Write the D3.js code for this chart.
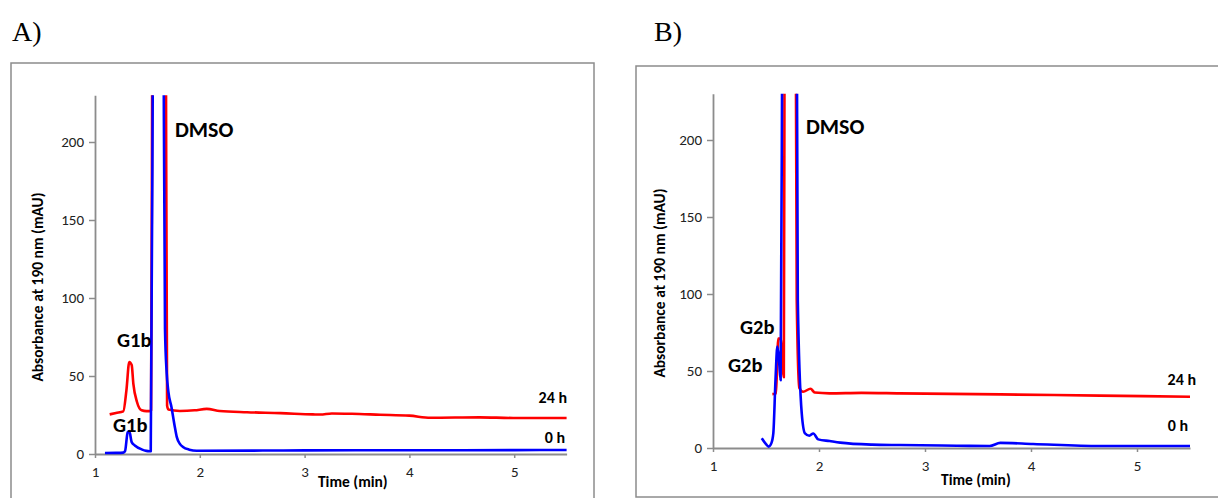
<!DOCTYPE html>
<html>
<head>
<meta charset="utf-8">
<script src="https://cdn.jsdelivr.net/npm/d3@7"></script>
<style>
  body { margin: 0; background: #fff; }
  svg text { font-family: Carlito, Calibri, "Open Sans", sans-serif; }
</style>
</head>
<body>
<div id="chart"></div>
<script>
// chromatogram traces, [time (min), absorbance (mAU)]
// values above the axis max are the clipped DMSO peak
var a24h = [[1.14, 25.4], [1.20, 26.3], [1.27, 27.3], [1.30, 41], [1.327, 59], [1.35, 57],
  [1.366, 45], [1.40, 33.5], [1.445, 28], [1.49, 27.5], [1.52, 27.5], [1.535, 28],
  [1.548, 300], [1.61, 1000], [1.675, 300], [1.688, 31], [1.70, 28.5], [1.81, 27.6],
  [1.95, 28], [2.066, 28.9], [2.19, 27.6], [2.45, 26.8], [2.77, 26.2], [3.08, 25.4],
  [3.15, 25.3], [3.26, 26], [3.45, 25.8], [3.72, 25.2], [4.0, 24.6], [4.2, 23.2],
  [4.67, 23.5], [4.99, 23.1], [5.5, 23.1]];
var a0h = [[1.095, 0.6], [1.20, 0.7], [1.27, 0.9], [1.286, 1.7], [1.312, 14], [1.327, 14.7],
  [1.35, 7.6], [1.38, 5.5], [1.445, 3], [1.49, 2], [1.52, 1.8], [1.532, 1.8],
  [1.555, 300], [1.60, 1000], [1.652, 300], [1.668, 80], [1.684, 52], [1.70, 40],
  [1.73, 30], [1.76, 18], [1.78, 11], [1.81, 6.5], [1.84, 4.5], [1.90, 2.8], [1.97, 2.1],
  [2.6, 2.2], [3.0, 2.3], [4.0, 2.4], [5.0, 2.5], [5.5, 2.6]];

var b24h = [[1.56, 35], [1.594, 35.5], [1.616, 71], [1.638, 71], [1.668, 46], [1.676, 300],
  [1.73, 1000], [1.78, 300], [1.79, 96], [1.815, 39], [1.85, 36.5], [1.92, 38.5],
  [1.96, 36], [2.1, 35.5], [2.4, 35.8], [2.76, 35.5], [3.71, 34.8], [4.65, 34],
  [5.5, 33.3]];
var b0h = [[1.46, 6.3], [1.50, 2.5], [1.525, 0.9], [1.55, 3], [1.569, 9.5], [1.59, 45],
  [1.607, 65.8], [1.625, 55], [1.638, 44], [1.655, 300], [1.72, 1000], [1.79, 300],
  [1.80, 96], [1.837, 22.7], [1.868, 9.5], [1.909, 8], [1.946, 9.4], [1.993, 5.6],
  [2.1, 4.5], [2.2, 3.5], [2.5, 2.2], [2.76, 1.9], [3.3, 1.5], [3.61, 1.3], [3.71, 3.3],
  [4.02, 2.6], [4.65, 1.3], [5.5, 1.3]];

var xTicks = [1, 2, 3, 4, 5];
var yTicks = [0, 50, 100, 150, 200];
var xDomain = [1, 5.5];
var yDomain = [0, 230];

// [text, time, absorbance, anchor, size]
var aLabels = [['DMSO', 1.763, 208, 'start', 22], ['G1b', 1.21, 73, 'start', 20.5],
  ['G1b', 1.172, 19, 'start', 20.5], ['24 h', 5.504, 36.5, 'end', 16], ['0 h', 5.485, 10.9, 'end', 16]];
var bLabels = [['DMSO', 1.877, 209, 'start', 22], ['G2b', 1.255, 78.6, 'start', 20.5],
  ['G2b', 1.142, 53.9, 'start', 20.5], ['24 h', 5.557, 44.8, 'end', 16], ['0 h', 5.481, 14.9, 'end', 16]];

var width = 1218, height = 498;

var svg = d3.select('#chart').append('svg')
  .attr('width', width)
  .attr('height', height);

function drawPanel(p) {
  // frame around the panel
  svg.append('rect')
    .attr('x', p.box[0]).attr('y', p.box[1])
    .attr('width', p.box[2]).attr('height', p.box[3])
    .attr('fill', 'none')
    .attr('stroke', '#8c8c8c')
    .attr('stroke-width', 1.5);

  svg.append('text')
    .attr('x', p.letter[0]).attr('y', p.letter[1])
    .style('font-family', '"Liberation Serif", "Times New Roman", serif')
    .style('font-size', '28px')
    .attr('fill', '#000')
    .text(p.name);

  var x = d3.scaleLinear().domain(xDomain).range([p.left, p.right]);
  var y = d3.scaleLinear().domain(yDomain).range([p.bottom, p.top]);

  var clipId = 'clip-' + p.id;
  svg.append('clipPath').attr('id', clipId)
    .append('rect')
    .attr('x', p.left).attr('y', p.top)
    .attr('width', p.right - p.left + 4)
    .attr('height', p.bottom - p.top + 10);

  var yAxis = svg.append('g')
    .attr('transform', 'translate(' + p.left + ',0)')
    .call(d3.axisLeft(y).tickValues(yTicks).tickSize(6).tickSizeOuter(0).tickPadding(5));

  var xAxis = svg.append('g')
    .attr('transform', 'translate(0,' + p.bottom + ')')
    .call(d3.axisBottom(x).tickValues(xTicks).tickSize(4).tickSizeOuter(0).tickPadding(8)
      .tickFormat(d3.format('d')));

  [xAxis, yAxis].forEach(function(ax) {
    ax.select('.domain').attr('stroke', '#8c8c8c').attr('stroke-width', 1.8);
    ax.selectAll('.tick line').attr('stroke', '#8c8c8c').attr('stroke-width', 1.5);
    ax.selectAll('.tick text')
      .attr('fill', '#222')
      .style('font-size', '15px');
  });

  var line = d3.line()
    .x(function(d) { return x(d[0]); })
    .y(function(d) { return y(d[1]); })
    .curve(d3.curveMonotoneX);

  var traces = svg.append('g').attr('clip-path', 'url(#' + clipId + ')');

  traces.append('path')
    .datum(p.red)
    .attr('fill', 'none')
    .attr('stroke', '#ff0000')
    .attr('stroke-width', 2.6)
    .attr('stroke-linejoin', 'round')
    .attr('d', line);

  traces.append('path')
    .datum(p.blue)
    .attr('fill', 'none')
    .attr('stroke', '#0000ff')
    .attr('stroke-width', 2.6)
    .attr('stroke-linejoin', 'round')
    .attr('d', line);

  svg.append('g').selectAll('text.note')
    .data(p.labels)
    .enter().append('text')
    .attr('class', 'note')
    .attr('x', function(d) { return x(d[1]); })
    .attr('y', function(d) { return y(d[2]); })
    .attr('dy', '0.35em')
    .attr('text-anchor', function(d) { return d[3]; })
    .style('font-weight', 'bold')
    .style('font-size', function(d) { return d[4] + 'px'; })
    .attr('fill', '#000')
    .text(function(d) { return d[0]; });

  svg.append('text')
    .attr('x', x(p.timeAt))
    .attr('y', p.bottom + p.timeDy)
    .attr('dy', '0.35em')
    .attr('text-anchor', 'middle')
    .style('font-weight', 'bold')
    .style('font-size', '15.5px')
    .text('Time (min)');

  svg.append('text')
    .attr('transform', 'translate(' + p.titleX + ',' + p.titleY + ') rotate(-90)')
    .attr('dy', '0.35em')
    .attr('text-anchor', 'middle')
    .style('font-weight', 'bold')
    .style('font-size', '15.5px')
    .text('Absorbance at 190 nm (mAU)');
}

drawPanel({
  id: 'a', name: 'A)', letter: [12, 41],
  box: [11, 63, 583, 460],
  left: 95, right: 566.6, top: 95.2, bottom: 454,
  red: a24h, blue: a0h, labels: aLabels,
  timeAt: 3.46, timeDy: 28, titleX: 38, titleY: 287
});

drawPanel({
  id: 'b', name: 'B)', letter: [654, 41],
  box: [636, 66, 600, 431],
  left: 713, right: 1190, top: 93.8, bottom: 448,
  red: b24h, blue: b0h, labels: bLabels,
  timeAt: 3.48, timeDy: 32, titleX: 660, titleY: 283
});
</script>
</body>
</html>
